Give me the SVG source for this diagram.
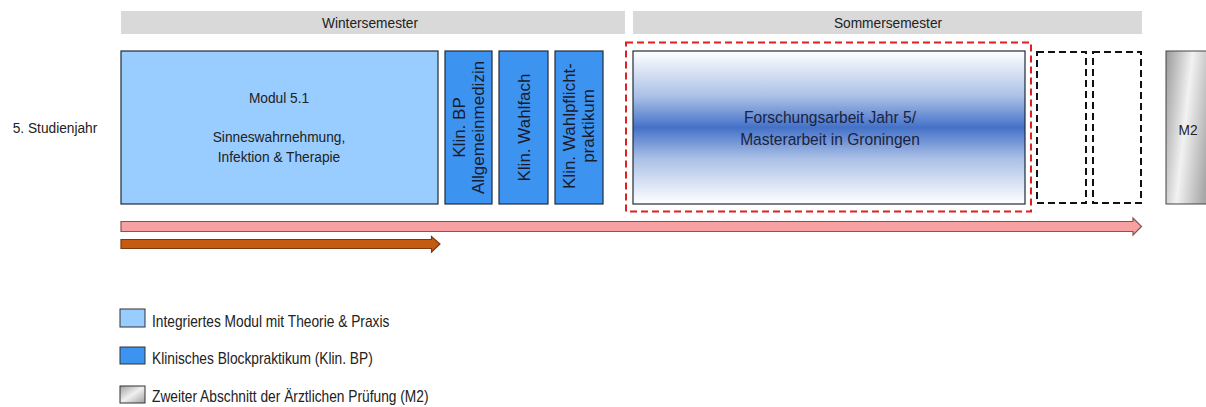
<svg xmlns="http://www.w3.org/2000/svg" width="1206" height="407" viewBox="0 0 1206 407">
<defs>
<linearGradient id="gBlue" x1="0" y1="0" x2="0" y2="1">
<stop offset="0" stop-color="#FFFFFF"/>
<stop offset="0.3" stop-color="#A9BFE6"/>
<stop offset="0.5" stop-color="#4472C8"/>
<stop offset="0.7" stop-color="#A9BFE6"/>
<stop offset="1" stop-color="#FFFFFF"/>
</linearGradient>
<linearGradient id="gGrey" x1="0" y1="0" x2="1" y2="0.35">
<stop offset="0" stop-color="#9A9A9A"/>
<stop offset="0.5" stop-color="#F2F2F2"/>
<stop offset="1" stop-color="#A8A8A8"/>
</linearGradient>
<linearGradient id="gGreyL" x1="0" y1="0" x2="1" y2="1">
<stop offset="0" stop-color="#A0A0A0"/>
<stop offset="0.5" stop-color="#F0F0F0"/>
<stop offset="1" stop-color="#A0A0A0"/>
</linearGradient>
</defs>
<style>
text{font-family:"Liberation Sans",Arial,sans-serif;fill:#222;}
.sem{fill:#D9D9D9;}
.box{stroke:#1F2B3A;stroke-width:1.2;}
.lb{fill:#99CCFF;}
.db{fill:#3C94F0;}
.c15{font-size:15px;text-anchor:middle;}
.c17{font-size:17px;text-anchor:middle;fill:#1A2340;}
.rot{font-size:17px;text-anchor:middle;fill:#1a1a2a;}
.dash{fill:none;stroke:#111;stroke-width:2;stroke-dasharray:7,4;}
.leg{font-size:16px;}
</style>
<rect width="1206" height="407" fill="#FFFFFF"/>

<g id="wintersemester">
<rect class="sem" x="121" y="11" width="504" height="23"/>
<text class="c15" transform="translate(370,28) scale(0.915,1)">Wintersemester</text>
</g>
<g id="sommersemester">
<rect class="sem" x="633" y="11" width="509" height="23"/>
<text class="c15" transform="translate(888,28) scale(0.915,1)">Sommersemester</text>
</g>

<g id="jahr">
<text class="c15" transform="translate(55,133) scale(0.915,1)">5. Studienjahr</text>
</g>

<g id="modul51">
<rect class="box lb" x="121" y="51" width="317" height="153"/>
<text class="c15" transform="translate(279,103) scale(0.915,1)">Modul 5.1</text>
<text class="c15" transform="translate(279,142) scale(0.915,1)">Sinneswahrnehmung,</text>
<text class="c15" transform="translate(279,162) scale(0.915,1)">Infektion &amp; Therapie</text>
</g>

<g id="klin-bp">
<rect class="box db" x="445" y="51" width="47" height="153"/>
<text class="rot" transform="translate(468.5,127.5) rotate(-90)"><tspan x="0" y="-4">Klin. BP</tspan><tspan x="0" y="15">Allgemeinmedizin</tspan></text>
</g>
<g id="klin-wahlfach">
<rect class="box db" x="499" y="51" width="49" height="153"/>
<text class="rot" transform="translate(523.5,127.5) rotate(-90)"><tspan x="0" y="6">Klin. Wahlfach</tspan></text>
</g>
<g id="klin-wahlpflicht">
<rect class="box db" x="555" y="51" width="48" height="153"/>
<text class="rot" transform="translate(579,126) rotate(-90)"><tspan x="0" y="-4">Klin. Wahlpflicht-</tspan><tspan x="0" y="15">praktikum</tspan></text>
</g>

<g id="forschung">
<rect x="626" y="42.5" width="405" height="169" fill="none" stroke="#E02020" stroke-width="2" stroke-dasharray="7,4"/>
<rect class="box" x="633" y="51" width="392" height="153" fill="url(#gBlue)"/>
<text class="c17" transform="translate(830,123) scale(0.915,1)">Forschungsarbeit Jahr 5/</text>
<text class="c17" transform="translate(830,145) scale(0.915,1)">Masterarbeit in Groningen</text>
</g>

<g id="leer1">
<rect class="dash" x="1037" y="52" width="49" height="151"/>
</g>
<g id="leer2">
<rect class="dash" x="1093" y="52" width="48" height="151"/>
</g>

<g id="m2">
<rect x="1166" y="51" width="48" height="153" fill="url(#gGrey)" stroke="#444" stroke-width="1"/>
<text class="c15" transform="translate(1188,135) scale(0.915,1)">M2</text>
</g>

<g id="connectors">
<path d="M121,221.5 H1133 V218 L1141.5,226.5 L1133,235 V231.5 H121 Z" fill="#F7A1A3" stroke="#8C5252" stroke-width="1.2"/>
<path d="M121,239.5 H431.5 V236.5 L440,244 L431.5,252 V248.5 H121 Z" fill="#C55A11" stroke="#7A3A10" stroke-width="1.2"/>
</g>

<g id="legende">
<rect x="120" y="309" width="25" height="18" fill="#99CCFF" stroke="#333" stroke-width="1"/>
<text class="leg" transform="translate(152,327) scale(0.86,1)">Integriertes Modul mit Theorie &amp; Praxis</text>
<rect x="120" y="347" width="25" height="17" fill="#3C94F0" stroke="#333" stroke-width="1"/>
<text class="leg" transform="translate(152,364) scale(0.86,1)">Klinisches Blockpraktikum (Klin. BP)</text>
<rect x="120" y="386" width="25" height="17" fill="url(#gGreyL)" stroke="#333" stroke-width="1"/>
<text class="leg" transform="translate(152,402) scale(0.86,1)">Zweiter Abschnitt der Ärztlichen Prüfung (M2)</text>
</g>
</svg>
